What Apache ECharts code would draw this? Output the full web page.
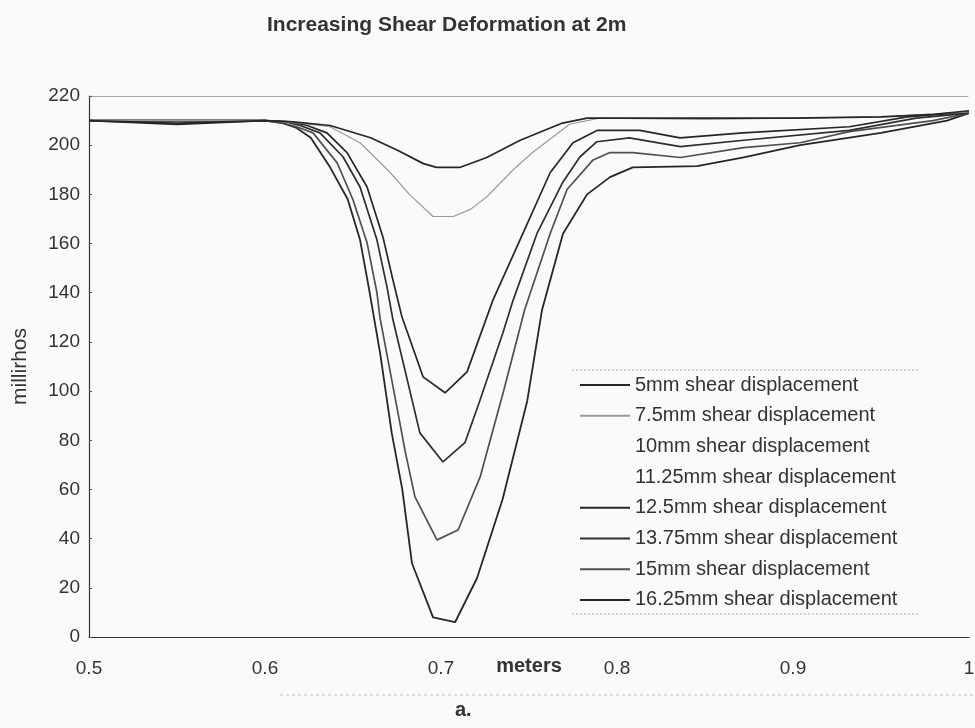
<!DOCTYPE html>
<html>
<head>
<meta charset="utf-8">
<title>Increasing Shear Deformation at 2m</title>
<script src="https://cdn.jsdelivr.net/npm/echarts@6/dist/echarts.min.js"></script>
<style>
  html, body { margin: 0; padding: 0; background: #fafafa; }
  #chart { width: 975px; height: 728px; }
</style>
</head>
<body>
<div id="chart"></div>
<script>
// Conductivity (millirhos) along the sample (meters) for each shear displacement step
const seriesNames = [
  '5mm shear displacement',
  '7.5mm shear displacement',
  '10mm shear displacement',
  '11.25mm shear displacement',
  '12.5mm shear displacement',
  '13.75mm shear displacement',
  '15mm shear displacement',
  '16.25mm shear displacement'
];

const shear5mm = [
  [0.5, 210], [0.55, 209], [0.6, 210], [0.616, 209.5], [0.637, 208], [0.66, 203],
  [0.675, 198], [0.69, 192.5], [0.6975, 191], [0.711, 191], [0.726, 195], [0.745, 202],
  [0.769, 209], [0.783, 211], [0.85, 211], [0.9, 211], [0.95, 211.5], [0.98, 212.5], [1.0, 214]
];
const shear7_5mm = [
  [0.5, 210], [0.6, 210], [0.62, 209], [0.637, 207.5], [0.654, 201], [0.671, 189],
  [0.682, 180], [0.6955, 171], [0.707, 171], [0.717, 174], [0.726, 179], [0.741, 190],
  [0.752, 197], [0.773, 208.5], [0.79, 211], [0.85, 210.5], [0.9, 211], [0.95, 211.5], [1.0, 213.5]
];
const shear10mm = [];
const shear11_25mm = [];
const shear12_5mm = [
  [0.5, 210], [0.6, 210], [0.615, 209.5], [0.624, 208], [0.6352, 205], [0.6466, 197],
  [0.658, 183], [0.667, 162.7], [0.6727, 145.2], [0.6778, 130.2], [0.6898, 105.8],
  [0.7023, 99.3], [0.7148, 107.8], [0.7295, 137], [0.7449, 161.5], [0.762, 188.8],
  [0.775, 201], [0.7886, 206], [0.813, 206], [0.8358, 203], [0.8716, 205], [0.932, 207.5],
  [0.965, 211.5], [1.0, 213.5]
];
const shear13_75mm = [
  [0.5, 210], [0.6, 210], [0.612, 209.5], [0.62, 208], [0.6312, 205], [0.6443, 195.3],
  [0.654, 183], [0.6636, 161.5], [0.6693, 142.4], [0.6727, 129], [0.688, 83], [0.7011, 71.2],
  [0.7136, 79], [0.7222, 96.4], [0.7352, 123.7], [0.741, 137], [0.7545, 164], [0.769, 184.7],
  [0.779, 195.3], [0.7886, 201.4], [0.807, 203], [0.836, 199.4], [0.872, 202], [0.932, 206],
  [0.97, 211], [1.0, 213]
];
const shear15mm = [
  [0.5, 210], [0.6, 210], [0.61, 209], [0.618, 207.5], [0.6273, 205], [0.641, 192.8],
  [0.65, 177.8], [0.658, 160.3], [0.6636, 140], [0.6653, 130], [0.6777, 83], [0.6795, 76],
  [0.6852, 57], [0.6977, 39.5], [0.7097, 43.5], [0.7222, 65], [0.7352, 99], [0.7475, 133],
  [0.762, 164], [0.7716, 182], [0.7864, 194], [0.796, 197], [0.809, 197], [0.836, 195],
  [0.872, 199], [0.904, 201], [0.932, 205.5], [0.9795, 210], [1.0, 213]
];
const shear16_25mm = [
  [0.5, 210], [0.55, 208.5], [0.6, 210], [0.61, 209], [0.618, 207], [0.626, 203],
  [0.637, 191], [0.647, 178], [0.654, 161.5], [0.659, 142], [0.6655, 115], [0.672, 83],
  [0.678, 60], [0.6835, 30], [0.6955, 8], [0.708, 6], [0.7205, 24], [0.735, 56], [0.749, 96],
  [0.7574, 133], [0.7693, 164], [0.783, 180], [0.796, 187], [0.809, 191], [0.8455, 191.5],
  [0.872, 195], [0.904, 200], [0.95, 205], [0.9875, 210], [1.0, 213]
];

const seriesData = [shear5mm, shear7_5mm, shear10mm, shear11_25mm,
                    shear12_5mm, shear13_75mm, shear15mm, shear16_25mm];
const seriesColors = ['#262626', '#9a9a9a', 'rgba(0,0,0,0)', 'rgba(0,0,0,0)',
                      '#262626', '#2e2e2e', '#505050', '#262626'];
const seriesWidths = [1.7, 1.2, 1.7, 1.7, 1.7, 1.7, 1.7, 1.8];

const xTicks = [0.5, 0.6, 0.7, 0.8, 0.9, 1.0];
const yTicks = [0, 20, 40, 60, 80, 100, 120, 140, 160, 180, 200, 220];

const FONT = '"Liberation Sans", Arial, sans-serif';
const TEXT = '#333';

const chart = echarts.init(document.getElementById('chart'), null, { renderer: 'canvas' });

chart.setOption({
  backgroundColor: '#fafafa',
  animation: false,
  title: {
    text: 'Increasing Shear Deformation at 2m',
    left: 262,
    top: 10,
    textStyle: { fontFamily: FONT, fontSize: 21, fontWeight: 'bold', color: TEXT }
  },
  grid: { left: 89, right: 6, top: 96, bottom: 91, containLabel: false, outerBoundsMode: 'none' },
  legend: {
    orient: 'vertical',
    left: 580,
    top: 375,
    padding: 0,
    icon: 'rect',
    itemWidth: 50,
    itemHeight: 2,
    itemGap: 10.7,
    selectedMode: false,
    textStyle: { fontFamily: FONT, fontSize: 20, color: TEXT, lineHeight: 20 },
    data: seriesNames
  },
  xAxis: [{
    type: 'value',
    min: xTicks[0],
    max: xTicks[xTicks.length - 1],
    interval: 0.1,
    name: 'meters',
    nameLocation: 'middle',
    nameGap: 19,
    nameMoveOverlap: false,
    nameTextStyle: { fontFamily: FONT, fontSize: 20, fontWeight: 'bold', color: TEXT },
    axisLine: { lineStyle: { color: '#333', width: 1.2 } },
    axisTick: { show: false },
    splitLine: { show: false },
    axisLabel: {
      fontFamily: FONT, fontSize: 19, color: TEXT, margin: 22,
      formatter: v => String(Math.round(v * 10) / 10)
    }
  }, {
    type: 'value',
    position: 'top',
    min: xTicks[0],
    max: xTicks[xTicks.length - 1],
    axisLine: { show: true, lineStyle: { color: '#999', width: 1, type: 'dotted' } },
    axisTick: { show: false },
    axisLabel: { show: false },
    splitLine: { show: false }
  }],
  yAxis: {
    type: 'value',
    min: yTicks[0],
    max: yTicks[yTicks.length - 1],
    interval: 20,
    name: 'millirhos',
    nameLocation: 'middle',
    nameGap: 58,
    nameMoveOverlap: false,
    nameTextStyle: { fontFamily: FONT, fontSize: 21, color: TEXT },
    axisLine: { show: true, lineStyle: { color: '#333', width: 1.2 } },
    axisTick: { show: true, inside: true, length: 3, lineStyle: { color: '#555' } },
    splitLine: { show: false },
    axisLabel: { fontFamily: FONT, fontSize: 19, color: TEXT, margin: 9 }
  },
  series: seriesNames.map((name, i) => ({
    name,
    type: 'line',
    xAxisIndex: 0,
    data: seriesData[i],
    showSymbol: false,
    symbol: 'none',
    smooth: false,
    color: seriesColors[i],
    lineStyle: { color: seriesColors[i], width: seriesWidths[i] },
    z: 10 - i
  })),
  graphic: [
    // dotted rules above and below the legend block
    { type: 'line', shape: { x1: 572, y1: 370, x2: 918, y2: 370 },
      style: { stroke: '#aaa', lineWidth: 1, lineDash: [2, 2] } },
    { type: 'line', shape: { x1: 572, y1: 614, x2: 918, y2: 614 },
      style: { stroke: '#aaa', lineWidth: 1, lineDash: [2, 2] } },
    // faint rule below the axis labels
    { type: 'line', shape: { x1: 280, y1: 695, x2: 975, y2: 695 },
      style: { stroke: '#bbb', lineWidth: 1, lineDash: [3, 3] } },
    // figure caption
    { type: 'text', left: 455, top: 700,
      style: { text: 'a.', font: 'bold 20px ' + FONT, fill: TEXT } }
  ]
});
</script>
</body>
</html>
